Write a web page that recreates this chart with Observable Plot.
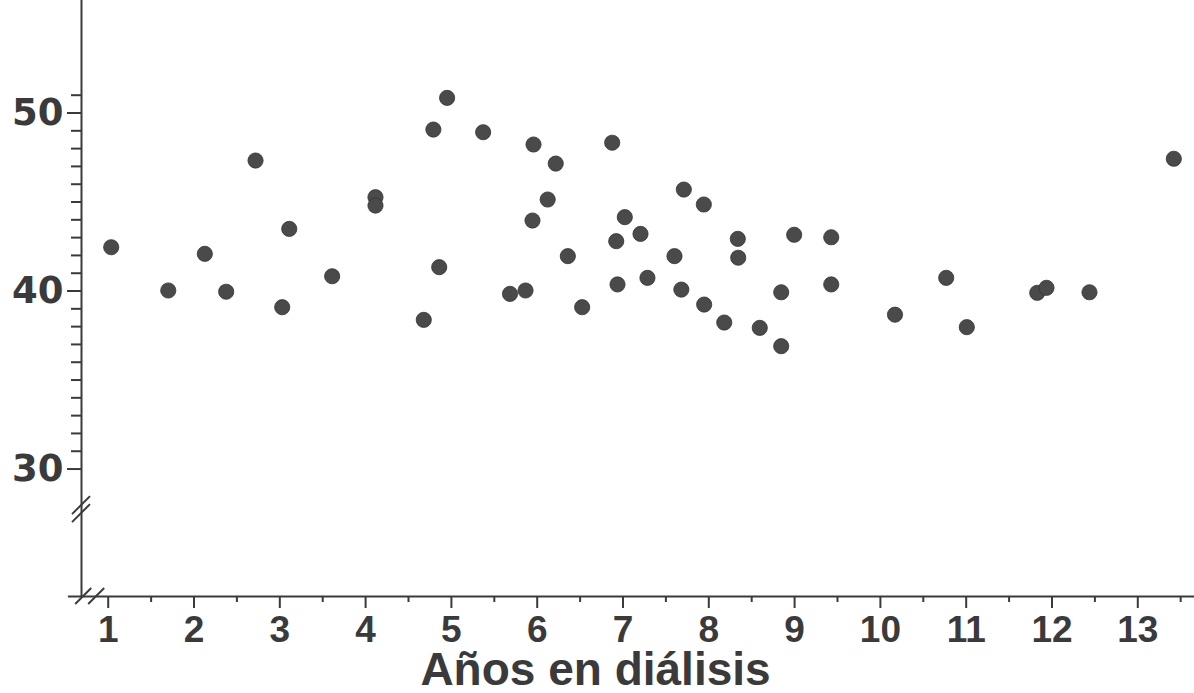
<!DOCTYPE html>
<html>
<head>
<meta charset="utf-8">
<script src="https://cdn.jsdelivr.net/npm/d3@7"></script>
<script src="https://cdn.jsdelivr.net/npm/@observablehq/plot@0.6"></script>
<style>
  html, body { margin: 0; padding: 0; background: #fff; }
  svg { display: block; }
</style>
</head>
<body>
<div id="chart"></div>
<script>
// --- data ---
const years = [1.035, 1.70, 2.126, 2.375, 2.717, 3.028, 3.11, 3.61, 4.115, 4.115,
  4.678, 4.79, 4.858, 4.95, 5.37, 5.683, 5.864, 5.945, 5.957, 6.122,
  6.216, 6.357, 6.524, 6.874, 6.921, 6.936, 7.021, 7.204, 7.285, 7.60,
  7.68, 7.709, 7.942, 7.946, 8.18, 8.338, 8.343, 8.594, 8.844, 8.844,
  8.995, 9.427, 9.427, 10.17, 10.767, 11.007, 11.828, 11.936, 12.437, 13.42];
const values = [42.46, 40.03, 42.09, 39.96, 47.33, 39.09, 43.49, 40.83, 45.27, 44.80,
  38.38, 49.07, 41.34, 50.85, 48.92, 39.84, 40.03, 43.96, 48.23, 45.14,
  47.16, 41.96, 39.09, 48.33, 42.80, 40.37, 44.15, 43.21, 40.74, 41.96,
  40.08, 45.70, 44.86, 39.24, 38.23, 42.93, 41.87, 37.93, 36.90, 39.93,
  43.16, 43.02, 40.37, 38.67, 40.74, 37.97, 39.90, 40.18, 39.93, 47.43];
const xTicks = [1, 2, 3, 4, 5, 6, 7, 8, 9, 10, 11, 12, 13];
const xMinorTicks = [1.5, 2.5, 3.5, 4.5, 5.5, 6.5, 7.5, 8.5, 9.5, 10.5, 11.5, 12.5, 13.5];
const yTicks = [30, 40, 50];
const yMinorTicks = [31, 32, 33, 34, 35, 36, 37, 38, 39, 41, 42, 43, 44, 45, 46, 47, 48, 49, 51];
const xLabel = "Años en diálisis";

// --- layout ---
const xDomain = [0.677, 13.661];
const yDomain = [22.84, 56.32];
const ink = "#3a3a3a";
const dotFill = "#4a4a4a";
const font = "'Liberation Sans', Arial, Helvetica, sans-serif";
const yFont = "'DejaVu Sans', 'Liberation Sans', sans-serif";
const yBreakAt = 27.72;
const xBreakAt = 0.79;

const data = years.map((x, i) => ({x, y: values[i]}));

// axis-break slashes (decoration), positioned through the scales
function breakMarks(index, scales) {
  const x = scales.x, y = scales.y;
  const g = d3.create("svg:g")
    .attr("stroke", ink).attr("stroke-width", 2).attr("fill", "none");
  const ax = x(xDomain[0]) + 1;
  const yb = y(yBreakAt);
  for (const o of [-4, 4]) {
    g.append("line").attr("x1", ax - 9).attr("y1", yb + o + 9).attr("x2", ax + 9).attr("y2", yb + o - 9);
  }
  const ay = y(yDomain[0]);
  const xb = x(xBreakAt);
  for (const o of [-6.5, 6.5]) {
    g.append("line").attr("x1", xb + o - 8).attr("y1", ay + 8).attr("x2", xb + o + 8).attr("y2", ay - 8);
  }
  return g.node();
}

const chart = Plot.plot({
  width: 1194,
  height: 693,
  marginLeft: 80,
  marginRight: 0,
  marginTop: 0,
  marginBottom: 97,
  x: {domain: xDomain},
  y: {domain: yDomain},
  style: {fontFamily: font, background: "#fff", color: ink, overflow: "visible"},
  marks: [
    Plot.ruleX([xDomain[0]], {y1: yDomain[0], y2: yDomain[1], stroke: ink, strokeWidth: 2, dx: 1}),
    Plot.ruleY([yDomain[0]], {x1: 0.536, x2: xDomain[1], stroke: ink, strokeWidth: 2}),
    Plot.axisX({ticks: xTicks, tickSize: 12, tickPadding: 7, fontSize: 37, fontWeight: "bold",
      strokeWidth: 2, label: null, fill: ink}),
    Plot.axisX({ticks: xMinorTicks, tickSize: 6, tickFormat: () => "", strokeWidth: 2, label: null}),
    Plot.axisY({ticks: yTicks, tickSize: 14, tickPadding: 4, fontSize: 37, fontWeight: "bold",
      fontFamily: yFont, strokeWidth: 2, label: null, fill: ink, dx: 1}),
    Plot.axisY({ticks: yMinorTicks, tickSize: 10, tickFormat: () => "", strokeWidth: 2, label: null, dx: 1}),
    breakMarks,
    Plot.dot(data, {x: "x", y: "y", r: 7.6, fill: dotFill, stroke: "#333", strokeWidth: 0.8}),
    Plot.text([xLabel], {text: d => d, frameAnchor: "bottom", lineAnchor: "middle",
      dy: 74, dx: -42, fontSize: 46, fontWeight: "bold", fill: ink})
  ]
});
document.getElementById("chart").append(chart);
</script>
</body>
</html>
